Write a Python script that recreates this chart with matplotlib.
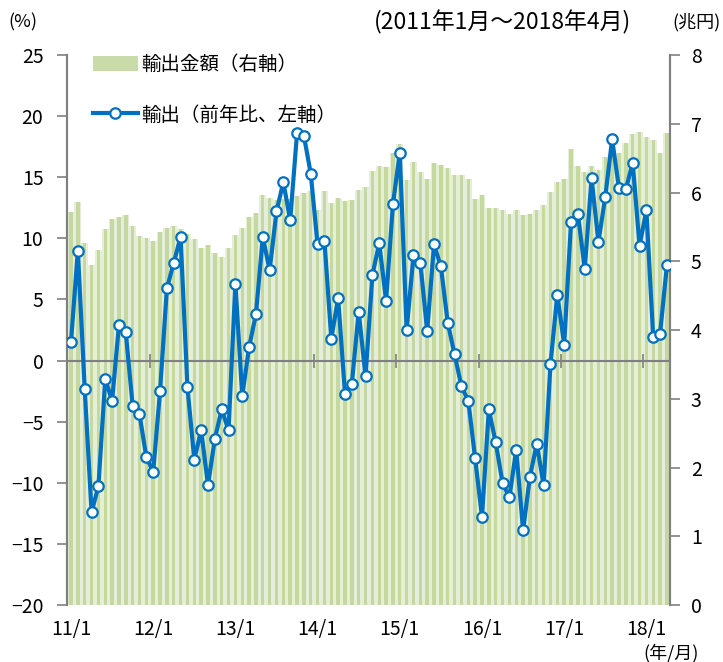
import matplotlib
matplotlib.use("Agg")
import matplotlib.pyplot as plt
from matplotlib.patches import Patch
from matplotlib.lines import Line2D

plt.rcParams['font.family'] = ['Noto Sans CJK JP', 'DejaVu Sans']

# DATA (2011/1 - 2018/4, monthly)

export_value = [  # trillion yen, right axis
    5.71, 5.86, 5.26, 4.95, 5.16, 5.47, 5.61, 5.65, 5.67, 5.52, 5.37, 5.34,
    5.29, 5.42, 5.48, 5.51, 5.47, 5.39, 5.32, 5.20, 5.23, 5.12, 5.06, 5.19,
    5.38, 5.49, 5.65, 5.70, 5.96, 5.92, 5.89, 5.90, 5.90, 5.95, 6.00, 6.02,
    5.75, 6.02, 5.85, 5.92, 5.87, 5.89, 6.04, 6.08, 6.31, 6.39, 6.37, 6.57,
    6.71, 6.18, 6.44, 6.30, 6.20, 6.43, 6.40, 6.36, 6.25, 6.25, 6.20, 5.90,
    5.96, 5.78, 5.78, 5.74, 5.69, 5.75, 5.67, 5.69, 5.74, 5.82, 6.01, 6.15,
    6.20, 6.63, 6.39, 6.30, 6.39, 6.33, 6.51, 6.64, 6.58, 6.72, 6.85, 6.88,
    6.81, 6.77, 6.58, 6.87,
]

export_yoy = [  # %, left axis
    1.5, 9.0, -2.3, -12.4, -10.3, -1.5, -3.3, 2.9, 2.3, -3.7, -4.4, -7.9,
    -9.1, -2.5, 5.9, 8.0, 10.1, -2.2, -8.1, -5.7, -10.2, -6.4, -4.0, -5.7,
    6.3, -2.9, 1.1, 3.8, 10.1, 7.4, 12.2, 14.6, 11.5, 18.6, 18.4, 15.3,
    9.5, 9.8, 1.8, 5.1, -2.7, -1.9, 4.0, -1.3, 7.0, 9.6, 4.9, 12.8,
    17.0, 2.5, 8.6, 8.0, 2.4, 9.5, 7.7, 3.1, 0.5, -2.1, -3.3, -8.0,
    -12.8, -4.0, -6.7, -10.0, -11.2, -7.3, -13.9, -9.5, -6.8, -10.2, -0.3, 5.4,
    1.3, 11.3, 12.0, 7.5, 14.9, 9.7, 13.4, 18.1, 14.1, 14.0, 16.2, 9.4,
    12.3, 1.9, 2.2, 7.8,
]

year_labels = ["11/1", "12/1", "13/1", "14/1", "15/1", "16/1", "17/1", "18/1"]

x = list(range(len(export_yoy)))
year_pos = [i * 12 for i in range(len(year_labels))]
year_bounds = [p - 0.5 for p in year_pos[1:]]

# PLOT

fig = plt.figure(figsize=(7.23, 6.62), dpi=100)
ax = fig.add_axes([0.0927, 0.0861, 0.834, 0.8308])
ax2 = ax.twinx()

# bars on the right axis, behind the line
ax2.bar(x, export_value, width=1.0, color="#e5eed7", linewidth=0)
ax2.bar(x, export_value, width=0.5, color="#c5d89f", linewidth=0)
ax2.set_ylim(0, 8)
ax2.set_yticks(range(0, 9))

ax.set_zorder(ax2.get_zorder() + 1)
ax.patch.set_visible(False)

ax.axhline(0, color="#808080", linewidth=1.5, zorder=1)
ax.plot(year_bounds, [0] * len(year_bounds), linestyle="none", marker="|",
        markersize=10, markeredgewidth=1.2, color="#808080", zorder=1)
ax.plot(x, export_yoy, color="#0070c0", linewidth=3, marker="o", markersize=7.5,
        markerfacecolor="white", markeredgecolor="#0070c0", markeredgewidth=1.6,
        zorder=3)

ax.set_ylim(-20, 25)
ax.set_yticks(range(-20, 26, 5))
ax.set_xlim(-0.58, len(x) - 0.55)
ax.set_xticks(year_pos)
ax.set_xticklabels(year_labels)

for a in (ax, ax2):
    for s in ("top", "bottom"):
        a.spines[s].set_visible(False)
    a.spines["left"].set_color("#808080")
    a.spines["right"].set_color("#808080")
    a.spines["left"].set_linewidth(1.5)
    a.spines["right"].set_linewidth(1.5)
    a.tick_params(axis="y", colors="#808080", length=7, width=1.2,
                  labelcolor="black", labelsize=14)
ax.tick_params(axis="x", length=0, labelsize=14, pad=10)
ax.tick_params(axis="y", pad=10)
ax2.tick_params(axis="y", pad=8)

# TEXTS

fig.text(0.012, 0.966, "(%)", fontsize=13, va="center")
fig.text(0.695, 0.966, "(2011年1月～2018年4月)", fontsize=16.5, ha="center", va="center")
fig.text(0.93, 0.966, "(兆円)", fontsize=13, va="center")
fig.text(0.89, 0.014, "(年/月)", fontsize=13, va="center")

handles = [
    Patch(facecolor="#c9dba8", edgecolor="none"),
    Line2D([], [], color="#0070c0", linewidth=3, marker="o", markersize=7.5,
           markerfacecolor="white", markeredgecolor="#0070c0", markeredgewidth=1.6),
]
fig.legend(handles, ["輸出金額（右軸）", "輸出（前年比、左軸）"], loc="upper left",
           bbox_to_anchor=(0.1286, 0.918), frameon=False, fontsize=14,
           borderpad=0, borderaxespad=0, handlelength=2.3, handleheight=0.8,
           handletextpad=0.2, labelspacing=1.5)

fig.savefig("out.png", dpi=100)
